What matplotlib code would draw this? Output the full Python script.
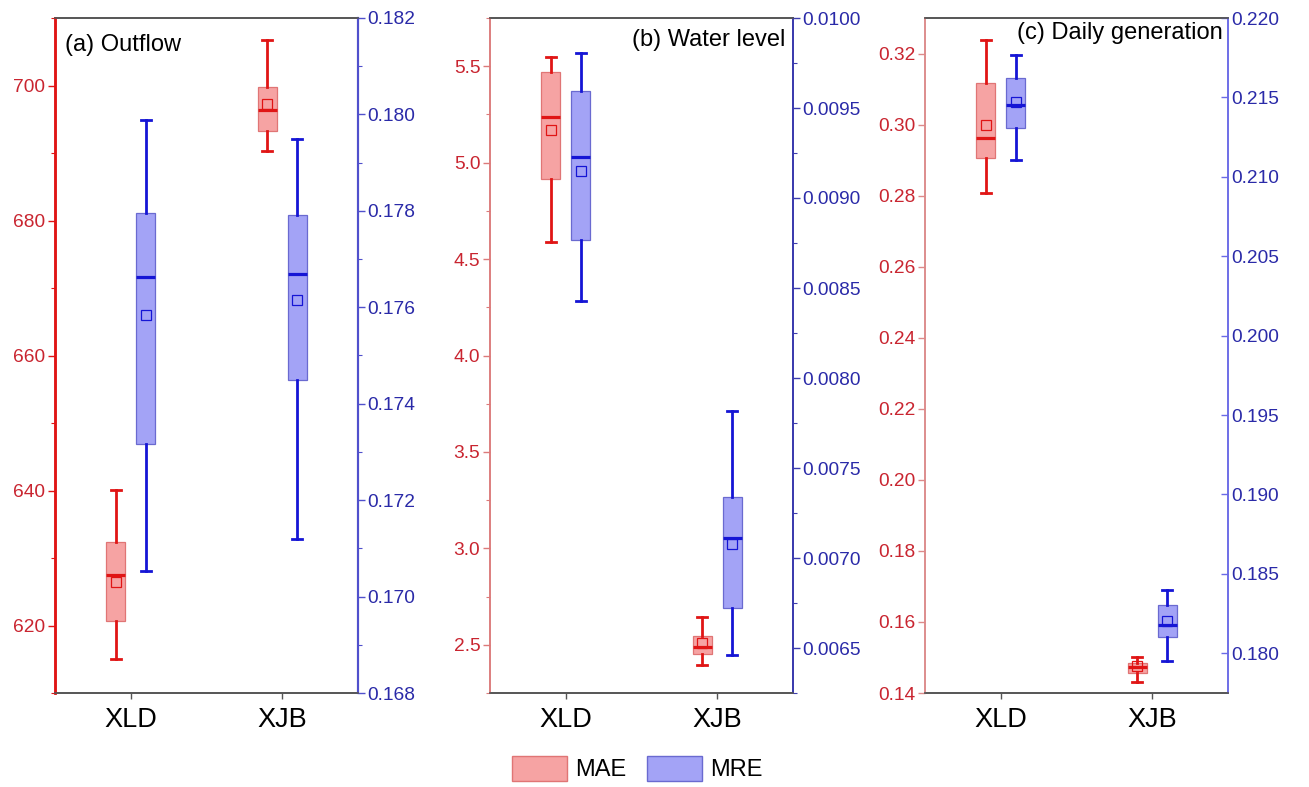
import matplotlib
matplotlib.use("Agg")
import matplotlib.pyplot as plt
from matplotlib.patches import Patch
from matplotlib.ticker import MultipleLocator, NullLocator

plt.rcParams['font.family'] = ['Liberation Sans', 'DejaVu Sans']

categories = ["XLD", "XJB"]
# each list: [whisker low, Q1, median, mean, Q3, whisker high]
outflow_mae_xld = [615.0, 620.6, 627.5, 626.5, 632.3, 640.1]
outflow_mae_xjb = [690.3, 693.3, 696.3, 697.3, 699.75, 706.7]
outflow_mre_xld = [0.17053, 0.17316, 0.17663, 0.17584, 0.17795, 0.17989]
outflow_mre_xjb = [0.17120, 0.17450, 0.17670, 0.17615, 0.17791, 0.17949]

level_mae_xld = [4.589, 4.914, 5.236, 5.171, 5.469, 5.547]
level_mae_xjb = [2.393, 2.453, 2.491, 2.509, 2.547, 2.646]
level_mre_xld = [0.008426, 0.008769, 0.009228, 0.009152, 0.009593, 0.009806]
level_mre_xjb = [0.006463, 0.006720, 0.007111, 0.007078, 0.007341, 0.007818]

gen_mae_xld = [0.2806, 0.2906, 0.2961, 0.2998, 0.3117, 0.3237]
gen_mae_xjb = [0.1431, 0.1455, 0.1472, 0.1475, 0.1485, 0.1501]
gen_mre_xld = [0.21106, 0.21305, 0.21454, 0.21469, 0.21622, 0.21767]
gen_mre_xjb = [0.17954, 0.18101, 0.18181, 0.18201, 0.18306, 0.18399]

titles = ["(a) Outflow", "(b) Water level", "(c) Daily generation"]
series_names = ["MAE", "MRE"]

RED_LINE = '#e01515'
RED_FILL = '#f6a3a3'
RED_EDGE = '#e07575'
RED_TXT = '#c92530'
BLUE_LINE = '#1515d5'
BLUE_FILL = '#a3a3f6'
BLUE_EDGE = '#6a6ad0'
BLUE_TXT = '#2a2aa8'


def to_stats(v):
    return dict(whislo=v[0], q1=v[1], med=v[2], mean=v[3], q3=v[4], whishi=v[5], fliers=[])


def draw(ax, data, pos, line, fill, edge):
    ax.bxp([to_stats(d) for d in data], positions=pos, widths=0.125,
           patch_artist=True, showmeans=True, showfliers=False,
           capwidths=0.065,
           boxprops=dict(facecolor=fill, edgecolor=edge, linewidth=0.9),
           whiskerprops=dict(color=line, linewidth=2.0),
           capprops=dict(color=line, linewidth=2.0),
           medianprops=dict(color=line, linewidth=2.3),
           meanprops=dict(marker='s', markersize=7, markerfacecolor='none',
                          markeredgecolor=line, markeredgewidth=0.9),
           manage_ticks=False)


fig = plt.figure(figsize=(13.09, 7.87), dpi=100)
W, H = 1309, 787
lefts = [55, 490, 925]

panels = [
    dict(mae=[outflow_mae_xld, outflow_mae_xjb], mre=[outflow_mre_xld, outflow_mre_xjb],
         ylim=(610, 710), y2lim=(0.168, 0.182), maj=20, mnr=10, maj2=0.002, mnr2=0.001,
         fmt2="{:.3f}", fmt="{:.0f}", tx=0.033, ty=0.96, ha='left',
         lspine=(RED_LINE, 1.8), rspine=('#5050cc', 1.5), rdir='out'),
    dict(mae=[level_mae_xld, level_mae_xjb], mre=[level_mre_xld, level_mre_xjb],
         ylim=(2.25, 5.75), y2lim=(0.00625, 0.0100), maj=0.5, mnr=0.25, maj2=0.0005, mnr2=0.00025,
         fmt2="{:.4f}", fmt="{:.1f}", tx=0.974, ty=0.967, ha='right',
         lspine=('#dc7a7a', 1.1), rspine=('#3c3cae', 1.4), rdir='out'),
    dict(mae=[gen_mae_xld, gen_mae_xjb], mre=[gen_mre_xld, gen_mre_xjb],
         ylim=(0.14, 0.33), y2lim=(0.1775, 0.220), maj=0.02, mnr=None, maj2=0.005, mnr2=None,
         fmt2="{:.3f}", fmt="{:.2f}", tx=0.982, ty=0.978, ha='right',
         lspine=('#dc8a8a', 1.1), rspine=('#6a6ae6', 1.1), rdir='in'),
]

for i, p in enumerate(panels):
    ax = fig.add_axes([lefts[i] / W, 94 / H, 303 / W, 675 / H])
    ax2 = ax.twinx()
    x = [1, 2]
    draw(ax, p['mae'], [v - 0.1 for v in x], RED_LINE, RED_FILL, RED_EDGE)
    draw(ax2, p['mre'], [v + 0.1 for v in x], BLUE_LINE, BLUE_FILL, BLUE_EDGE)
    ax.set_xlim(0.5, 2.5)
    ax.set_ylim(*p['ylim'])
    ax2.set_ylim(*p['y2lim'])
    ax.set_xticks(x)
    ax.set_xticklabels(categories, fontsize=19.5)
    ax.tick_params(axis='x', length=4, width=1.0, color='#555555', pad=6)

    ax.yaxis.set_major_locator(MultipleLocator(p['maj']))
    ax2.yaxis.set_major_locator(MultipleLocator(p['maj2']))
    if p['mnr']:
        ax.yaxis.set_minor_locator(MultipleLocator(p['mnr']))
        ax2.yaxis.set_minor_locator(MultipleLocator(p['mnr2']))
    else:
        ax.yaxis.set_minor_locator(NullLocator())
        ax2.yaxis.set_minor_locator(NullLocator())
    ax.yaxis.set_major_formatter(matplotlib.ticker.FuncFormatter(lambda v, _, f=p['fmt']: f.format(v)))
    ax2.yaxis.set_major_formatter(matplotlib.ticker.FuncFormatter(lambda v, _, f=p['fmt2']: f.format(v)))

    lc, lw = p['lspine']
    rc, rw = p['rspine']
    ax.tick_params(axis='y', which='major', labelsize=13.8, labelcolor=RED_TXT, color=lc,
                   length=5, width=1.0, pad=2)
    ax.tick_params(axis='y', which='minor', color=lc, length=3, width=0.8)
    ax2.tick_params(axis='y', which='major', labelsize=13.8, labelcolor=BLUE_TXT, color=rc,
                    length=5, width=1.0, pad=2, direction=p['rdir'])
    ax2.tick_params(axis='y', which='minor', color=rc, length=3, width=0.8, direction=p['rdir'])

    for a in (ax, ax2):
        a.spines['top'].set_color('#555555')
        a.spines['bottom'].set_color('#555555')
        a.spines['top'].set_linewidth(1.2)
        a.spines['bottom'].set_linewidth(1.2)
        a.spines['left'].set_color(lc)
        a.spines['left'].set_linewidth(lw)
        a.spines['right'].set_color(rc)
        a.spines['right'].set_linewidth(rw)

    ax.text(p['tx'], p['ty'], titles[i], transform=ax.transAxes, ha=p['ha'], va='center',
            fontsize=17, color='black')

handles = [Patch(facecolor=RED_FILL, edgecolor=RED_EDGE, linewidth=1.0),
           Patch(facecolor=BLUE_FILL, edgecolor=BLUE_EDGE, linewidth=1.0)]
fig.legend(handles, series_names, loc='center', bbox_to_anchor=(0.487, 0.023), ncol=2,
           frameon=False, fontsize=17, handlelength=2.3, handleheight=1.2,
           handletextpad=0.35, columnspacing=0.9, borderpad=0.1)

fig.savefig("out.png", dpi=100)
